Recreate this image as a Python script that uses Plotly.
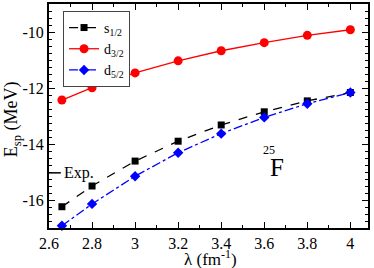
import plotly.graph_objects as go

lam = [2.66, 2.8, 3.0, 3.2, 3.4, 3.6, 3.8, 4.0]
s12 = [-16.24, -15.50, -14.61, -13.90, -13.32, -12.85, -12.46, -12.16]
d32 = [-12.43, -11.99, -11.46, -11.03, -10.67, -10.38, -10.12, -9.92]
d52 = [-16.92, -16.14, -15.15, -14.31, -13.63, -13.05, -12.56, -12.16]
exp_value = -15.03
x_ticks = [2.6, 2.8, 3.0, 3.2, 3.4, 3.6, 3.8, 4.0]
x_tick_labels = ["2.6", "2.8", "3", "3.2", "3.4", "3.6", "3.8", "4"]
y_ticks = [-16, -14, -12, -10]
y_tick_labels = ["-16", "-14", "-12", "-10"]

FONT = "Times New Roman, Liberation Serif, serif"

fig = go.Figure()
fig.add_trace(go.Scatter(x=lam, y=s12, mode="lines+markers", name="s<sub>1/2</sub>",
                         line=dict(color="black", dash="dash", width=1.3), cliponaxis=False,
                         marker=dict(symbol="square", size=7, color="black")))
fig.add_trace(go.Scatter(x=lam, y=d32, mode="lines+markers", name="d<sub>3/2</sub>",
                         line=dict(color="red", width=1.3), cliponaxis=False,
                         marker=dict(symbol="circle", size=9, color="red")))
fig.add_trace(go.Scatter(x=lam, y=d52, mode="lines+markers", name="d<sub>5/2</sub>",
                         line=dict(color="blue", dash="dashdot", width=1.3), cliponaxis=False,
                         marker=dict(symbol="diamond", size=8, color="blue")))

fig.add_shape(type="line", xref="x", yref="y", x0=2.6, x1=2.655, y0=exp_value, y1=exp_value,
              line=dict(color="black", width=1.5))
fig.add_annotation(x=2.66, y=exp_value, xref="x", yref="y", text="Exp.", showarrow=False,
                   xanchor="left", yanchor="middle", font=dict(family=FONT, size=16, color="black"))
fig.add_annotation(x=3.66, y=-14.85, xref="x", yref="y", text="F", showarrow=False,
                   xanchor="center", yanchor="middle", font=dict(family=FONT, size=25, color="black"))
fig.add_annotation(x=3.62, y=-14.22, xref="x", yref="y", text="25", showarrow=False,
                   xanchor="center", yanchor="middle", font=dict(family=FONT, size=12, color="black"))
fig.add_annotation(x=-0.112, y=0.487, xref="paper", yref="paper", text="E<sub>sp</sub> (MeV)",
                   showarrow=False, textangle=-90, xanchor="center", yanchor="middle",
                   font=dict(family=FONT, size=18, color="black"))
fig.add_annotation(x=0.505, y=-0.134, xref="paper", yref="paper", text="λ (fm<sup>-1</sup>)",
                   showarrow=False, xanchor="center", yanchor="middle",
                   font=dict(family=FONT, size=17, color="black"))

axis_common = dict(showline=True, linecolor="black", linewidth=2, mirror="ticks",
                   ticks="inside", ticklen=6, tickwidth=1.3, tickcolor="black",
                   showgrid=False, zeroline=False,
                   tickfont=dict(family=FONT, size=16, color="black"))
fig.update_xaxes(range=[2.6, 4.082], tickvals=x_ticks, ticktext=x_tick_labels,
                 minor=dict(dtick=0.1, ticks="inside", ticklen=3, tickcolor="black", tickwidth=1),
                 **axis_common)
fig.update_yaxes(range=[-17, -9], tickvals=y_ticks, ticktext=y_tick_labels,
                 minor=dict(dtick=0.25, ticks="inside", ticklen=3, tickcolor="black", tickwidth=1),
                 **axis_common)

fig.update_layout(width=374, height=268, margin=dict(l=49, r=6, t=2, b=40),
                  plot_bgcolor="white", paper_bgcolor="white",
                  font=dict(family=FONT, size=15, color="black"),
                  showlegend=True,
                  legend=dict(x=0.044, y=0.969, xanchor="left", yanchor="top",
                              bordercolor="#444", borderwidth=1, bgcolor="white",
                              font=dict(family=FONT, size=14), itemwidth=30,
                              tracegroupgap=0))

fig.write_html("out.html", config={"displayModeBar": False},
               post_script="document.body.style.margin='0';document.body.style.padding='0';")
